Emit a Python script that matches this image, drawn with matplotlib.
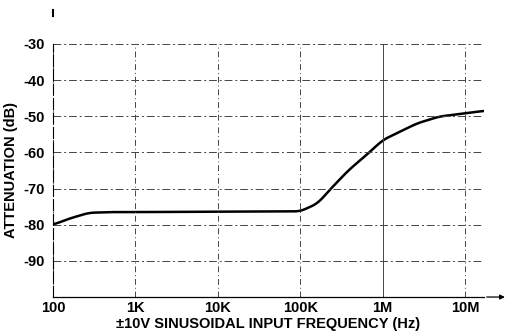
import numpy as np
import matplotlib
matplotlib.use("Agg")
import matplotlib.pyplot as plt

plt.rcParams['font.family'] = ['Liberation Sans', 'DejaVu Sans']
plt.rcParams['axes.unicode_minus'] = False

# curve: frequency (Hz) vs attenuation (dB)
freq = [100, 158, 272, 500, 1e3, 1e4, 1e5, 1.63e5, 2.36e5, 3.87e5, 6.67e5, 1e6, 2.6e6, 4.8e6, 1e7, 1.7e7]
atten = [-80, -78.3, -76.7, -76.5, -76.5, -76.4, -76.3, -74.1, -70, -64.9, -60.3, -56.6, -52, -50.1, -49.2, -48.5]

xticks = [1e2, 1e3, 1e4, 1e5, 1e6, 1e7]
xticklabels = ['100', '1K', '10K', '100K', '1M', '10M']
yticks = [-30, -40, -50, -60, -70, -80, -90]

fig = plt.figure(figsize=(5.1, 3.33), dpi=100)
ax = fig.add_axes([0.104, 0.108, 0.845, 0.76])

# smooth the read points in log-frequency
lf = np.log10(freq)
xs = np.linspace(lf[0], lf[-1], 400)
ys = np.interp(xs, lf, atten)
k = np.ones(11) / 11
ys_s = np.convolve(np.pad(ys, 5, mode='edge'), k, mode='valid')
ax.plot(10 ** xs, ys_s, color='black', lw=1.8, solid_capstyle='round')

ax.set_xscale('log')
ax.set_xlim(100, 1.7e7)
ax.set_ylim(-100, -30)

# grid, dashed like the printed sheet
for f in xticks:
    ls = '-' if f == 1e6 else (0, (6, 3, 1, 3))
    ax.axvline(f, color='#444444', lw=0.7, ls=ls)
for y in yticks:
    ax.axhline(y, color='#444444', lw=0.7, ls=(0, (8, 3, 2, 3)))
ax.axvline(1.7e7, color='#444444', lw=0.7, ls=(0, (4, 3)))

for s in ['top', 'right']:
    ax.spines[s].set_visible(False)
ax.spines['left'].set_linewidth(0.8)
ax.spines['left'].set_linestyle((0, (10, 3)))
ax.spines['bottom'].set_linewidth(0.9)

ax.set_xticks(xticks)
ax.set_xticklabels(xticklabels)
ax.set_xticks([], minor=True)
ax.set_yticks(yticks)
ax.set_yticklabels([str(y) for y in yticks])
ax.tick_params(axis='x', length=0, labelsize=10.5, pad=3)
ax.tick_params(axis='y', length=0, labelsize=10.5, pad=6)
for lab in ax.get_xticklabels() + ax.get_yticklabels():
    lab.set_fontweight('bold')

ax.set_xlabel('±10V SINUSOIDAL INPUT FREQUENCY (Hz)', fontsize=10.5, fontweight='bold', labelpad=1)
ax.set_ylabel('ATTENUATION (dB)', fontsize=10.5, fontweight='bold', labelpad=4)

# axis arrows
ax.annotate('', xy=(1.055, 0), xytext=(1.0, 0), xycoords='axes fraction',
            arrowprops=dict(arrowstyle='-|>', color='black', lw=0.9, mutation_scale=7))
ax.plot([0.0, 0.0], [1.11, 1.135], transform=ax.transAxes, color='black', lw=1.5, clip_on=False)

fig.savefig('out.png', dpi=100)
